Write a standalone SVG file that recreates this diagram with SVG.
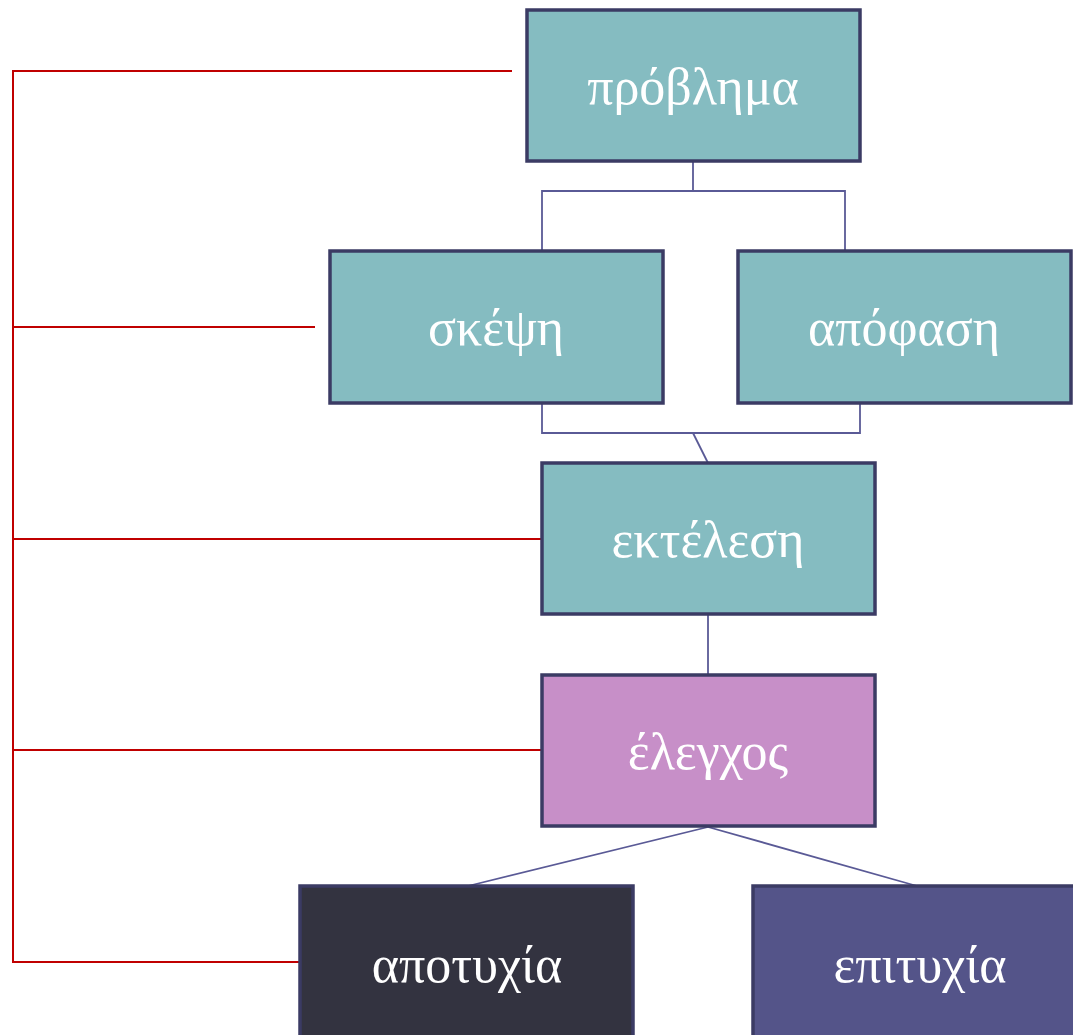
<svg xmlns="http://www.w3.org/2000/svg" width="1073" height="1035" viewBox="0 0 1073 1035">
<style>
.box{stroke:#3B3B64;stroke-width:3.5}
.teal{fill:#85BCC1}
.t{font-family:"Liberation Serif","DejaVu Serif",serif;font-size:52px;fill:#FFFFFF;text-anchor:middle}
.c{fill:none;stroke:#5A5A96;stroke-width:1.8}
.r{fill:none;stroke:#C00000;stroke-width:2}
</style>
<rect width="1073" height="1035" fill="#FFFFFF"/>
<g id="connectors">
<polyline class="c" points="693,161 693,191 542,191 542,251"/>
<polyline class="c" points="693,191 845,191 845,251"/>
<polyline class="c" points="542,403 542,433 860,433 860,403"/>
<line class="c" x1="693" y1="433" x2="708" y2="463"/>
<line class="c" x1="708" y1="614" x2="708" y2="675"/>
<line class="c" x1="708" y1="827" x2="468" y2="886"/>
<line class="c" x1="708" y1="827" x2="917" y2="886"/>
</g>
<g id="side-lines">
<polyline class="r" points="512,71 13,71 13,962 300,962"/>
<line class="r" x1="13" y1="327" x2="315" y2="327"/>
<line class="r" x1="13" y1="539" x2="542" y2="539"/>
<line class="r" x1="13" y1="750" x2="542" y2="750"/>
</g>
<g id="problima"><rect class="box teal" x="527" y="10" width="333" height="151"/><text class="t" x="693" y="104">πρόβλημα</text></g>
<g id="skepsi"><rect class="box teal" x="330" y="251" width="333" height="152"/><text class="t" x="496" y="345">σκέψη</text></g>
<g id="apofasi"><rect class="box teal" x="738" y="251" width="333" height="152"/><text class="t" x="904" y="345">απόφαση</text></g>
<g id="ektelesi"><rect class="box teal" x="542" y="463" width="333" height="151"/><text class="t" x="708" y="557">εκτέλεση</text></g>
<g id="elegxos"><rect class="box" fill="#C78FC8" x="542" y="675" width="333" height="151"/><text class="t" x="708" y="769">έλεγχος</text></g>
<g id="apotyxia"><rect class="box" fill="#333340" x="300" y="886" width="333" height="152"/><text class="t" x="467" y="982">αποτυχία</text></g>
<g id="epityxia"><rect class="box" fill="#545489" x="753" y="886" width="333" height="152"/><text class="t" x="920" y="982">επιτυχία</text></g>
</svg>
